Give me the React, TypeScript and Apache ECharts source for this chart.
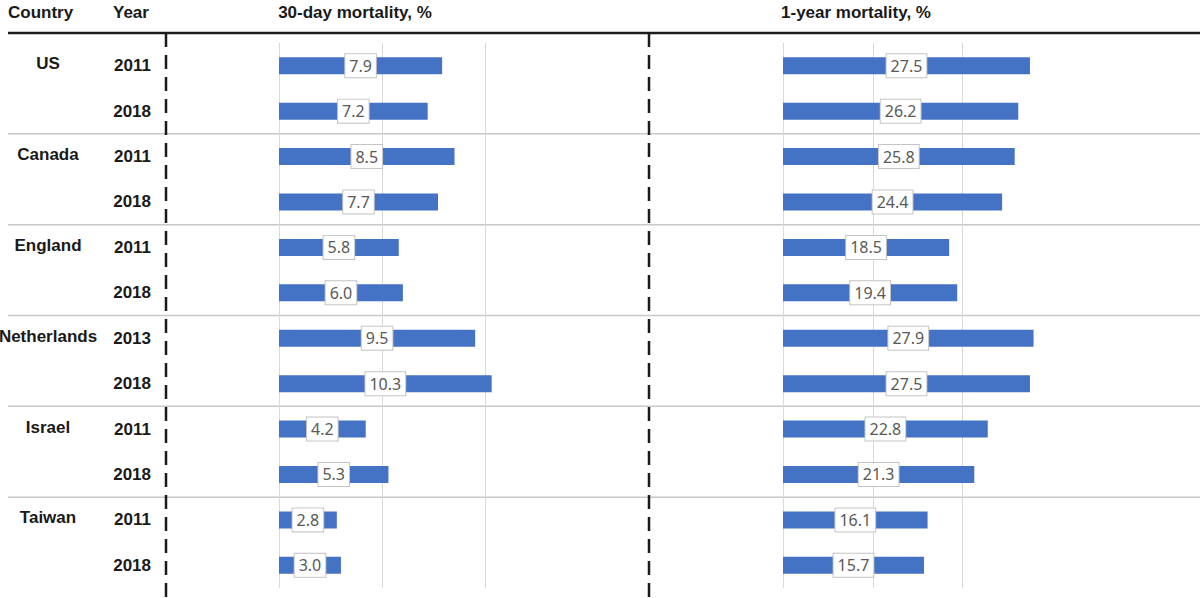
import React, { useEffect, useRef } from "react";
import * as echarts from "echarts";

const headers = ["Country", "Year", "30-day mortality, %", "1-year mortality, %"];
const countries = ["US", "Canada", "England", "Netherlands", "Israel", "Taiwan"];
const years = ["2011", "2018", "2011", "2018", "2011", "2018", "2013", "2018", "2011", "2018", "2011", "2018"];
const mortality30 = [7.9, 7.2, 8.5, 7.7, 5.8, 6.0, 9.5, 10.3, 4.2, 5.3, 2.8, 3.0];
const mortality1y = [27.5, 26.2, 25.8, 24.4, 18.5, 19.4, 27.9, 27.5, 22.8, 21.3, 16.1, 15.7];
const axis30 = { min: 0, max: 12, interval: 5 };
const axis1y = { min: 0, max: 29, interval: 10 };

const rowKeys = years.map((y, i) => `${countries[Math.floor(i / 2)]} ${y}`);

const W = 1200;
const H = 598;
const TOP = 43;
const PLOT_H = 545;
const BAND = PLOT_H / rowKeys.length;
const FONT = "'Liberation Sans', Arial, sans-serif";
const BAR_COLOR = "#4472C4";

export default function App() {
  const ref = useRef<HTMLDivElement>(null);
  useEffect(() => {
    document.body.style.margin = "0";
    const chart = echarts.init(ref.current!, null, { renderer: "svg" });

    const label = {
      show: true,
      position: "inside",
      formatter: (p: any) => Number(p.value).toFixed(1),
      color: "#595959",
      fontSize: 16,
      fontFamily: "'Noto Sans', 'Open Sans', sans-serif",
      backgroundColor: "#ffffff",
      borderColor: "#c4c4c4",
      borderWidth: 1,
      padding: [4, 4, 3, 4],
    };

    const xAxisCommon = {
      type: "value",
      axisLabel: { show: false },
      axisLine: { show: false },
      axisTick: { show: false },
      splitLine: { show: true, showMaxLine: false, lineStyle: { color: "#d9d9d9", width: 1 } },
    };
    const yAxisCommon = {
      type: "category",
      data: rowKeys,
      inverse: true,
      axisLine: { show: false },
      axisTick: { show: false },
      splitLine: { show: false },
    };

    const graphics: any[] = [];
    // headers
    graphics.push({ type: "text", x: 8, y: 12, style: { text: headers[0], font: `bold 17px ${FONT}`, fill: "#1a1a1a", textVerticalAlign: "middle" } });
    graphics.push({ type: "text", x: 113, y: 12, style: { text: headers[1], font: `bold 17px ${FONT}`, fill: "#1a1a1a", textVerticalAlign: "middle" } });
    graphics.push({ type: "text", x: 355, y: 12, style: { text: headers[2], font: `bold 17px ${FONT}`, fill: "#1a1a1a", textAlign: "center", textVerticalAlign: "middle" } });
    graphics.push({ type: "text", x: 856, y: 12, style: { text: headers[3], font: `bold 17px ${FONT}`, fill: "#1a1a1a", textAlign: "center", textVerticalAlign: "middle" } });
    // top rule
    graphics.push({ type: "line", shape: { x1: 8, y1: 33, x2: W, y2: 33 }, style: { stroke: "#1a1a1a", lineWidth: 2.5 } });
    // group separators
    for (let g = 1; g < countries.length; g++) {
      const y = TOP + BAND * 2 * g;
      graphics.push({ type: "line", shape: { x1: 8, y1: y, x2: W, y2: y }, style: { stroke: "#c8c8c8", lineWidth: 1.5 } });
    }
    // country labels
    countries.forEach((c, g) => {
      graphics.push({
        type: "text",
        x: 48,
        y: TOP + BAND * (2 * g + 0.5) - 2,
        style: { text: c, font: `bold 17px ${FONT}`, fill: "#1a1a1a", textAlign: "center", textVerticalAlign: "middle" },
      });
    });
    // dashed dividers
    [166, 649].forEach((x) => {
      graphics.push({ type: "line", shape: { x1: x, y1: 33, x2: x, y2: H }, style: { stroke: "#1a1a1a", lineWidth: 2.5, lineDash: [14, 8] } });
    });

    chart.setOption({
      animation: false,
      backgroundColor: "#ffffff",
      grid: [
        { left: 279, top: TOP, width: 20.65 * axis30.max, height: PLOT_H },
        { left: 783, top: TOP, width: 8.98 * axis1y.max, height: PLOT_H },
      ],
      xAxis: [
        { ...xAxisCommon, gridIndex: 0, ...axis30 },
        { ...xAxisCommon, gridIndex: 1, ...axis1y },
      ],
      yAxis: [
        {
          ...yAxisCommon,
          gridIndex: 0,
          axisLabel: {
            show: true,
            formatter: (_v: string, i: number) => years[i],
            margin: 128,
            fontWeight: "bold",
            fontSize: 17,
            fontFamily: FONT,
            color: "#1a1a1a",
          },
        },
        { ...yAxisCommon, gridIndex: 1, axisLabel: { show: false } },
      ],
      series: [
        { type: "bar", xAxisIndex: 0, yAxisIndex: 0, data: mortality30, barWidth: 17, itemStyle: { color: BAR_COLOR }, label },
        { type: "bar", xAxisIndex: 1, yAxisIndex: 1, data: mortality1y, barWidth: 17, itemStyle: { color: BAR_COLOR }, label },
      ],
      graphic: graphics,
    });
    return () => chart.dispose();
  }, []);
  return <div ref={ref} style={{ width: W, height: H }} />;
}
